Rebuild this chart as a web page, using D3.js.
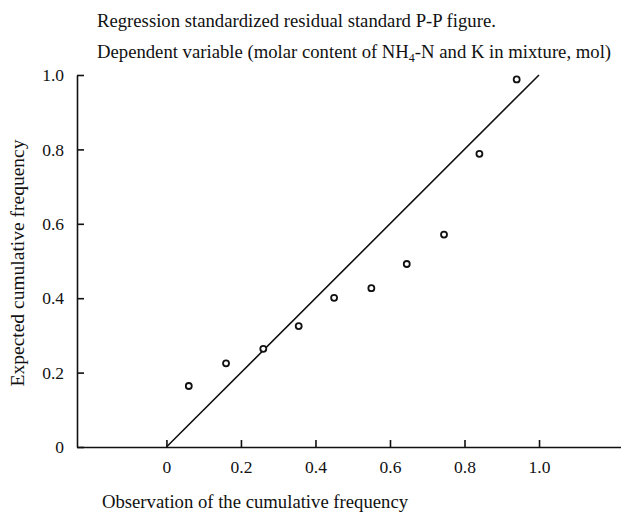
<!DOCTYPE html>
<html lang="en">
<head>
    <meta charset="UTF-8">
    <title>P-P Plot</title>
    <script src="https://d3js.org/d3.v7.min.js"></script>
    <style>
        body { margin: 0; background: #fff; }
        svg { display: block; font-family: "Liberation Serif", "Times New Roman", serif; }
        .axis path, .axis line { stroke: #111; stroke-width: 1.6px; }
        .title { font-size: 18.7px; fill: #111; }
        .point { fill: #fff; stroke: #111; stroke-width: 1.8px; }
        .refline { stroke: #111; stroke-width: 1.6px; }
    </style>
</head>
<body>
    <div id="chart"></div>
    <script>
        // observed cumulative probability (x) and expected cumulative probability (y)
        const observed = [0.06, 0.16, 0.26, 0.355, 0.45, 0.55, 0.645, 0.745, 0.84, 0.94];
        const expected = [0.164, 0.225, 0.264, 0.325, 0.401, 0.427, 0.492, 0.571, 0.788, 0.988];
        const xTicks = [0, 0.2, 0.4, 0.6, 0.8, 1.0];
        const yTicks = [0, 0.2, 0.4, 0.6, 0.8, 1.0];
        const refLine = [0, 1];

        const width = 621, height = 512;

        const svg = d3.select("#chart").append("svg")
            .attr("width", width)
            .attr("height", height);

        const x = d3.scaleLinear().domain([-0.24, 1.22]).range([77, 621]);
        const y = d3.scaleLinear().domain([0, 1]).range([447, 75]);

        const fmt = d => d === 0 ? "0" : d3.format(".1f")(d);

        svg.append("g")
            .attr("class", "axis")
            .attr("transform", "translate(0," + y(0) + ")")
            .call(d3.axisBottom(x).tickValues(xTicks).tickFormat(fmt)
                .tickSizeInner(-7).tickSizeOuter(0).tickPadding(14));

        svg.append("g")
            .attr("class", "axis")
            .attr("transform", "translate(" + x.range()[0] + ",0)")
            .call(d3.axisLeft(y).tickValues(yTicks).tickFormat(fmt)
                .tickSizeInner(-7).tickSizeOuter(0).tickPadding(13));

        // axis() writes sans-serif 10px on the group, so style the labels directly
        svg.selectAll(".axis text")
            .style("font-family", "'Liberation Serif', 'Times New Roman', serif")
            .style("font-size", "17.5px")
            .style("fill", "#111");

        svg.append("line")
            .attr("class", "refline")
            .attr("x1", x(refLine[0])).attr("y1", y(refLine[0]))
            .attr("x2", x(refLine[1])).attr("y2", y(refLine[1]));

        svg.selectAll(".point")
            .data(observed)
            .enter().append("circle")
            .attr("class", "point")
            .attr("cx", d => x(d))
            .attr("cy", (d, i) => y(expected[i]))
            .attr("r", 3);

        svg.append("text")
            .attr("class", "title")
            .attr("x", 97).attr("y", 27)
            .text("Regression standardized residual standard P-P figure.");

        const sub = svg.append("text")
            .attr("class", "title")
            .attr("x", 97).attr("y", 58);
        sub.append("tspan").text("Dependent variable (molar content of NH");
        sub.append("tspan").attr("font-size", "12px").attr("dy", 4).text("4");
        sub.append("tspan").attr("dy", -4).text("-N and K in mixture, mol)");

        svg.append("text")
            .attr("class", "title")
            .attr("text-anchor", "middle")
            .style("font-size", "19.5px")
            .attr("transform", "translate(24,263) rotate(-90)")
            .text("Expected cumulative frequency");

        svg.append("text")
            .attr("class", "title")
            .attr("text-anchor", "middle")
            .attr("x", 255).attr("y", 508)
            .text("Observation of the cumulative frequency");
    </script>
</body>
</html>
